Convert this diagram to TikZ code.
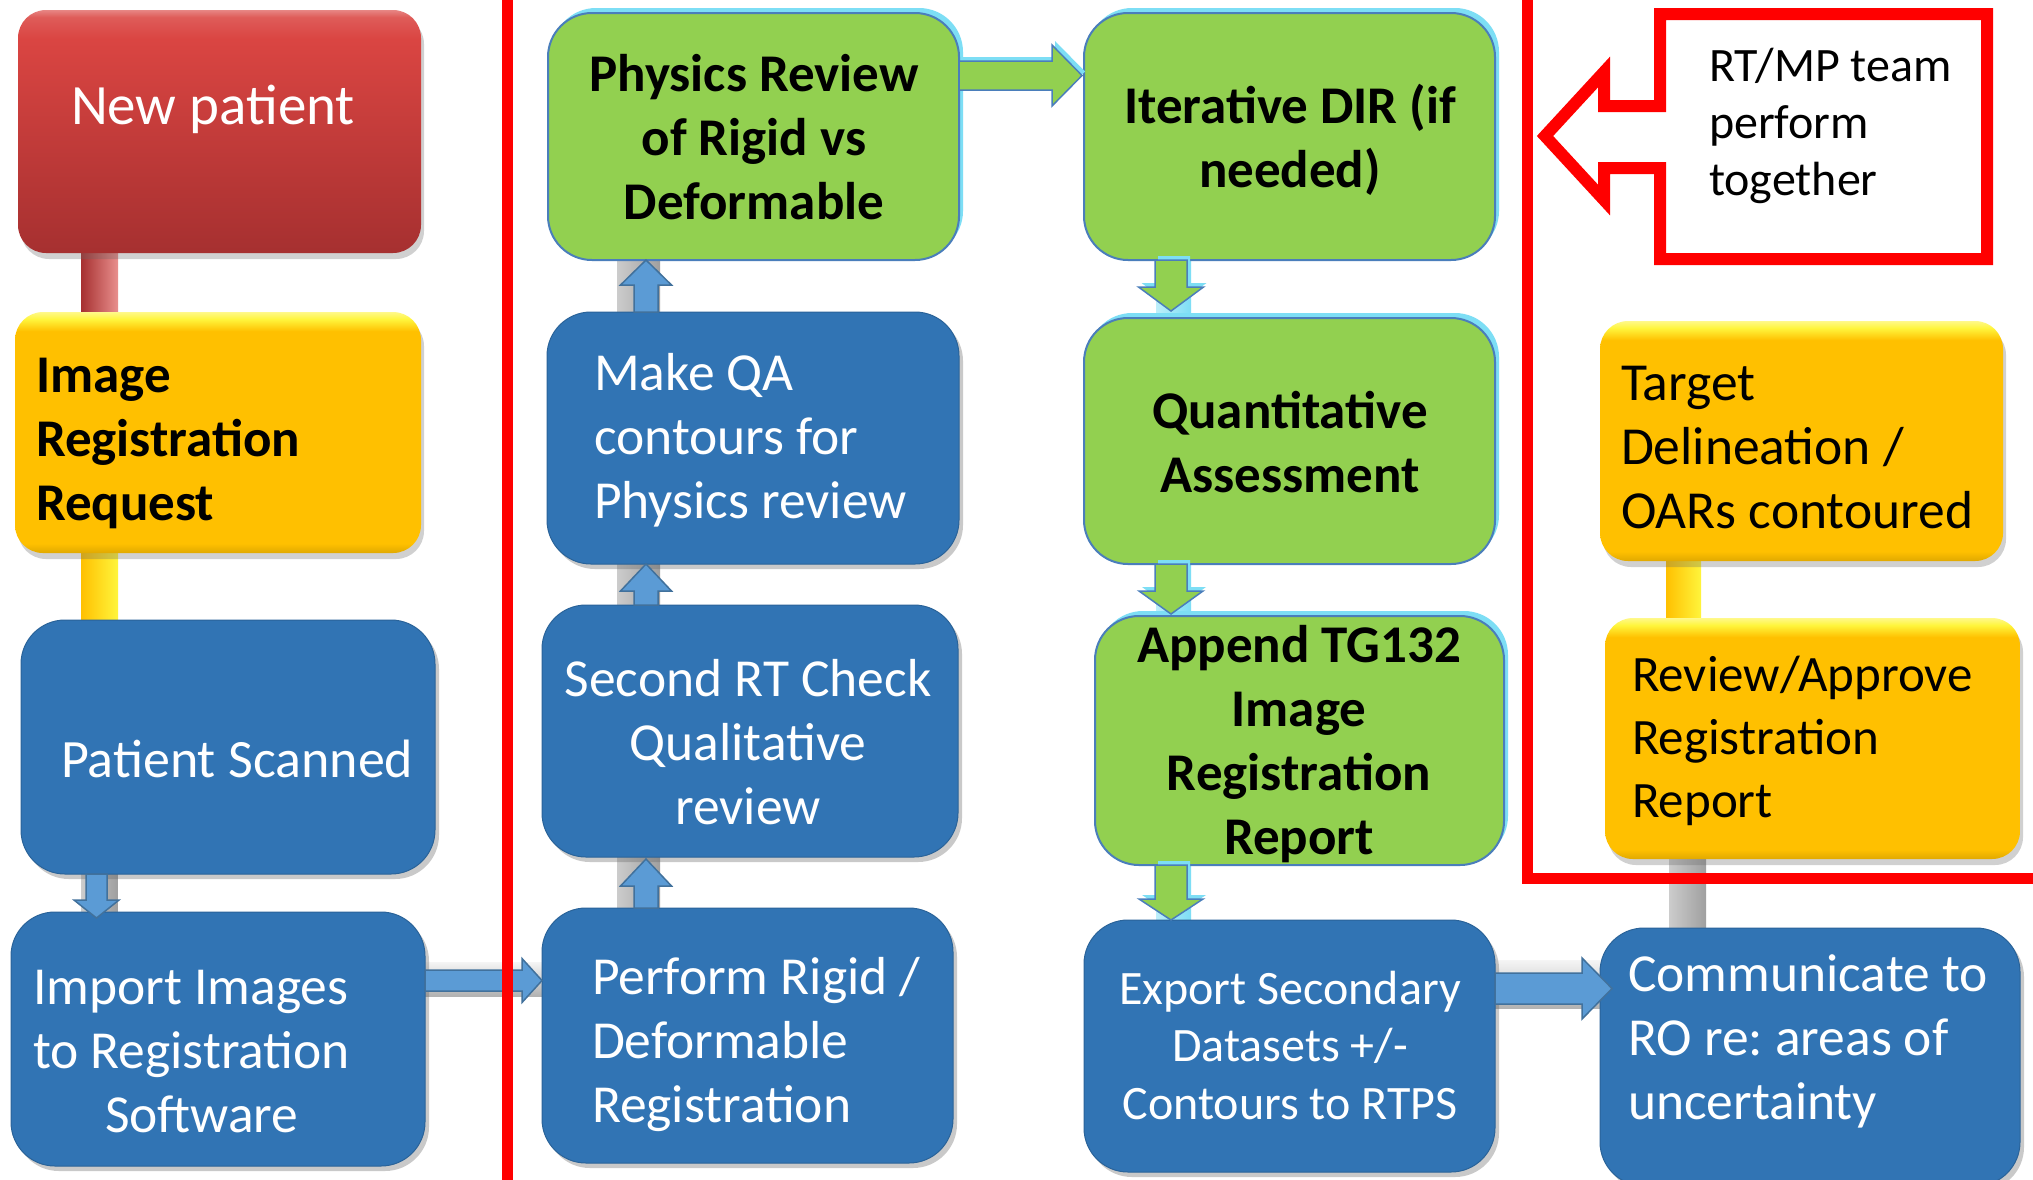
\documentclass[tikz,border=0pt]{standalone}
\usepackage{fontspec}
\setmainfont{Carlito}
\frenchspacing
\usetikzlibrary{calc,shadows,backgrounds}

\definecolor{boxblue}{RGB}{49,116,180}
\definecolor{arrowblue}{RGB}{91,155,213}
\definecolor{arrowedge}{RGB}{65,113,156}
\definecolor{boxgreen}{RGB}{146,208,80}
\definecolor{greenedge}{RGB}{74,126,187}
\definecolor{glowcyan}{RGB}{125,222,245}
\definecolor{boxyellow}{RGB}{255,192,0}
\definecolor{bevelyellow}{RGB}{255,245,60}
\definecolor{redtop}{RGB}{218,69,66}
\definecolor{redbot}{RGB}{166,48,48}
\definecolor{alertred}{RGB}{255,0,0}

% vertical shadings: the box itself spans 25bp..75bp
\pgfdeclareverticalshading{yellowbevel}{100bp}{color(0bp)=(boxyellow!88!black); color(25bp)=(boxyellow!88!black); color(27bp)=(boxyellow); color(71bp)=(boxyellow); color(73.5bp)=(bevelyellow); color(75bp)=(bevelyellow!60!white); color(100bp)=(bevelyellow!60!white)}
\pgfdeclareverticalshading{redbevel}{100bp}{color(0bp)=(redbot); color(25bp)=(redbot); color(69bp)=(redtop); color(73.5bp)=(redtop!88!white); color(75bp)=(redtop!65!white); color(100bp)=(redtop!65!white)}

% block arrow from #2 to #3: shaft half width #4, head half width #5, head length #6
\newcommand\blockarrow[6]{%
  \coordinate (ba-s) at (#2);
  \coordinate (ba-e) at (#3);
  \coordinate (ba-b) at ($(ba-e)!#6!(ba-s)$);
  \path[#1] ($(ba-s)!#4!90:(ba-e)$) -- ($(ba-b)!#4!90:(ba-e)$) -- ($(ba-b)!#5!90:(ba-e)$)
    -- (ba-e) -- ($(ba-b)!#5!-90:(ba-e)$) -- ($(ba-b)!#4!-90:(ba-e)$) -- ($(ba-s)!#4!-90:(ba-e)$) -- cycle;}

\tikzset{
  card/.style={rounded corners=44pt, inner sep=0pt, outer sep=0pt},
  softcard/.style={rounded corners=28pt, inner sep=0pt, outer sep=0pt},
  bluebox/.style={card, fill=boxblue, draw=boxblue!85!black, line width=1pt,
    drop shadow={shadow xshift=4pt, shadow yshift=-5pt, opacity=0.35, fill=black!60}},
  greenbox/.style={card, fill=boxgreen, draw=greenedge, line width=2pt,
    general shadow={fill=glowcyan, shadow xshift=4pt, shadow yshift=5pt}},
  yellowbox/.style={softcard, shade, shading=yellowbevel,
    drop shadow={shadow xshift=3pt, shadow yshift=-6pt, opacity=0.3, fill=black!60}},
  redbox/.style={softcard, shade, shading=redbevel,
    drop shadow={shadow xshift=3pt, shadow yshift=-6pt, opacity=0.3, fill=black!60}},
  bluearrow/.style={fill=arrowblue, draw=arrowedge, line width=1.5pt, line join=miter},
  greenarrow/.style={fill=boxgreen, draw=greenedge, line width=1.5pt, line join=miter,
    general shadow={fill=glowcyan, shadow xshift=3pt, shadow yshift=4pt}},
  graystem/.style={left color=gray!40, middle color=gray!6, right color=gray!75},
  grayrail/.style={top color=gray!8, bottom color=gray!60},
  redstem/.style={left color=redbot, middle color=redtop, right color=redtop!60!white},
  yellowstem/.style={left color=boxyellow, middle color=bevelyellow!70!boxyellow, right color=bevelyellow},
  cyanstem/.style={left color=glowcyan!50!white, right color=glowcyan},
  % multi-line texts are placed by the baseline of their last line
  txt/.style={inner sep=0pt, outer sep=0pt, font=\fontsize{53.5pt}{64pt}\selectfont},
  boldtxt/.style={txt, font=\fontsize{53pt}{64pt}\selectfont\bfseries},
  redrule/.style={draw=alertred, line width=11pt, line join=miter},
}

\begin{document}
\begin{tikzpicture}[x=1pt, y=-1pt]
\useasboundingbox (0,0) rectangle (2033,1179);

% lanes for stems, arrows and rails
\coordinate (lane1) at (99.5,0);
\coordinate (arr1) at (96.5,0);
\coordinate (lane2) at (638.5,0);
\coordinate (arr2) at (646,0);
\coordinate (lane3) at (1173.5,0);
\coordinate (arr3) at (1171,0);
\coordinate (lane4a) at (1683.5,0);
\coordinate (lane4b) at (1687.5,0);
\coordinate (row1) at (0,75.5);
\coordinate (row2) at (0,980.5);
\coordinate (row2b) at (0,979);
\coordinate (row3) at (0,988.5);
\coordinate (row3b) at (0,984);

% column 1
\node[redbox, minimum width=403pt, minimum height=243pt] (newpt) at (219.5,131.5) {};
\node[yellowbox, minimum width=406pt, minimum height=241pt] (imgreq) at (218,432.5) {};
\node[bluebox, minimum width=414pt, minimum height=254pt] (scanned) at (228,747) {};
\node[bluebox, minimum width=414pt, minimum height=254pt] (import) at (218,1039) {};

% column 2
\node[greenbox, minimum width=411pt, minimum height=247pt] (physics) at (753.5,136.5) {};
\node[bluebox, minimum width=412pt, minimum height=252pt] (makeqa) at (753,438) {};
\node[bluebox, minimum width=416pt, minimum height=252pt] (second) at (750,731) {};
\node[bluebox, minimum width=411pt, minimum height=255pt] (perform) at (747.5,1035.5) {};

% column 3
\node[greenbox, minimum width=411pt, minimum height=247pt] (iter) at (1289.5,136.5) {};
\node[greenbox, minimum width=411pt, minimum height=246pt] (quant) at (1289.5,441) {};
\node[greenbox, minimum width=409pt, minimum height=249pt] (append) at (1299.5,740.5) {};
\node[bluebox, minimum width=411pt, minimum height=252pt] (export) at (1289.5,1046) {};

% column 4
\node[yellowbox, minimum width=403pt, minimum height=240pt] (target) at (1801.5,441) {};
\node[yellowbox, minimum width=415pt, minimum height=241pt] (review) at (1812.5,738.5) {};
\node[bluebox, minimum width=420pt, minimum height=258pt] (comm) at (1810,1057) {};

% connector stems and rails behind the boxes
\begin{scope}[on background layer]
  \fill[white] (0,0) rectangle (2033,1179);
  \fill[redstem] ($(newpt.south -| lane1)+(-18.5,-10)$) rectangle ($(imgreq.north -| lane1)+(18.5,10)$);
  \fill[yellowstem] ($(imgreq.south -| lane1)+(-18.5,-10)$) rectangle ($(scanned.north -| lane1)+(18.5,10)$);
  \fill[graystem] ($(scanned.south -| lane1)+(-18,-10)$) rectangle ($(import.north -| lane1)+(18,10)$);
  \fill[grayrail] ($(import.east |- row2b)+(-10,-17)$) rectangle ($(perform.west |- row2b)+(10,17)$);
  \fill[graystem] ($(physics.south -| lane2)+(-21.5,-10)$) rectangle ($(makeqa.north -| lane2)+(21.5,10)$);
  \fill[graystem] ($(makeqa.south -| lane2)+(-21.5,-10)$) rectangle ($(second.north -| lane2)+(21.5,10)$);
  \fill[graystem] ($(second.south -| lane2)+(-21.5,-10)$) rectangle ($(perform.north -| lane2)+(21.5,10)$);
  \fill[cyanstem] ($(iter.south -| lane3)+(-17.5,-10)$) rectangle ($(quant.north -| lane3)+(17.5,10)$);
  \fill[cyanstem] ($(quant.south -| lane3)+(-17.5,-10)$) rectangle ($(append.north -| lane3)+(17.5,10)$);
  \fill[cyanstem] ($(append.south -| lane3)+(-17.5,-10)$) rectangle ($(export.north -| lane3)+(17.5,10)$);
  \fill[yellowstem] ($(target.south -| lane4a)+(-17.5,-10)$) rectangle ($(review.north -| lane4a)+(17.5,10)$);
  \fill[graystem] ($(review.south -| lane4b)+(-18.5,-10)$) rectangle ($(comm.north -| lane4b)+(18.5,10)$);
  \fill[grayrail] ($(export.east |- row3b)+(-10,-24)$) rectangle ($(comm.west |- row3b)+(10,24)$);
\end{scope}

% block arrows
\blockarrow{bluearrow}{scanned.south -| arr1}{$(import.north -| arr1)+(0,6)$}{10.5pt}{22.5pt}{18pt}
\blockarrow{bluearrow}{import.east |- row2}{perform.west |- row2}{10.5pt}{22pt}{20pt}
\blockarrow{bluearrow}{perform.north -| arr2}{$(second.south -| arr2)+(0,2)$}{12pt}{25.5pt}{27pt}
\blockarrow{bluearrow}{second.north -| arr2}{makeqa.south -| arr2}{12pt}{25.5pt}{27pt}
\blockarrow{bluearrow}{makeqa.north -| arr2}{physics.south -| arr2}{12pt}{25.5pt}{25pt}
\blockarrow{greenarrow}{physics.east |- row1}{$(iter.west |- row1)+(-2,0)$}{14.5pt}{30.5pt}{30pt}
\blockarrow{greenarrow}{iter.south -| arr3}{$(quant.north -| arr3)+(0,-7)$}{16pt}{32.5pt}{24pt}
\blockarrow{greenarrow}{quant.south -| arr3}{$(append.north -| arr3)+(0,-2)$}{16pt}{32pt}{23pt}
\blockarrow{greenarrow}{append.south -| arr3}{export.north -| arr3}{16pt}{32pt}{21pt}
\blockarrow{bluearrow}{export.east |- row3}{$(comm.west |- row3)+(12,0)$}{15.5pt}{30.5pt}{30pt}

% texts
\node[txt, text=white, anchor=base west, font=\fontsize{57pt}{68pt}\selectfont] (newpt-t) at (71,124) {New patient};
\node[boldtxt, align=left, anchor=base west] (imgreq-t) at (36,520) {Image\\Registration\\Request};
\node[txt, text=white, anchor=base west, font=\fontsize{54pt}{64pt}\selectfont] (scanned-t) at (61,777) {Patient Scanned};
\node[txt, text=white, align=left, anchor=base west] (import-t) at (33,1132) {Import Images\\to Registration\\\hspace*{72pt}Software};

\node[boldtxt, align=center, anchor=base] (physics-t) at (754,219) {Physics Review\\of Rigid vs\\Deformable};
\node[txt, text=white, align=left, anchor=base west] (makeqa-t) at (594,518) {Make QA\\contours for\\Physics review};
\node[txt, text=white, align=center, anchor=base] (second-t) at (748,824) {Second RT Check\\Qualitative\\review};
\node[txt, text=white, align=left, anchor=base west] (perform-t) at (592,1122) {Perform Rigid /\\Deformable\\Registration};

\node[boldtxt, align=center, anchor=base] (iter-t) at (1290,187) {Iterative DIR (if\\needed)};
\node[boldtxt, align=center, anchor=base] (quant-t) at (1290,492) {Quantitative\\Assessment};
\node[boldtxt, align=center, anchor=base] (append-t) at (1299,854) {Append TG132\\Image\\Registration\\Report};
\node[txt, text=white, align=center, anchor=base, font=\fontsize{48pt}{57.5pt}\selectfont] (export-t) at (1290,1119) {Export Secondary\\Datasets +/-\\Contours to RTPS};

\node[txt, align=left, anchor=base west] (target-t) at (1621,528) {Target\\Delineation /\\OARs contoured};
\node[txt, align=left, anchor=base west, font=\fontsize{51pt}{63pt}\selectfont] (review-t) at (1632,817) {Review/Approve\\Registration\\Report};
\node[txt, text=white, align=left, anchor=base west] (comm-t) at (1628,1119) {Communicate to\\RO re: areas of\\uncertainty};

% red dividers and the team call-out
\draw[redrule] (507,-10) -- (507,1190);
\draw[redrule] (1527.5,-10) -- (1527.5,878) -- (2045,878);
\draw[draw=alertred, line width=12pt, line join=miter, fill=white]
  (1660,106) -- (1604,106) -- (1604,72) -- (1545,136) -- (1604,200) -- (1604,168)
  -- (1660,168) -- (1660,259) -- (1987,259) -- (1987,14) -- (1660,14) -- cycle;
\node[txt, align=left, anchor=base west, font=\fontsize{48pt}{57pt}\selectfont] (team-t) at (1709,195) {RT/MP team\\perform\\together};
\end{tikzpicture}
\end{document}
